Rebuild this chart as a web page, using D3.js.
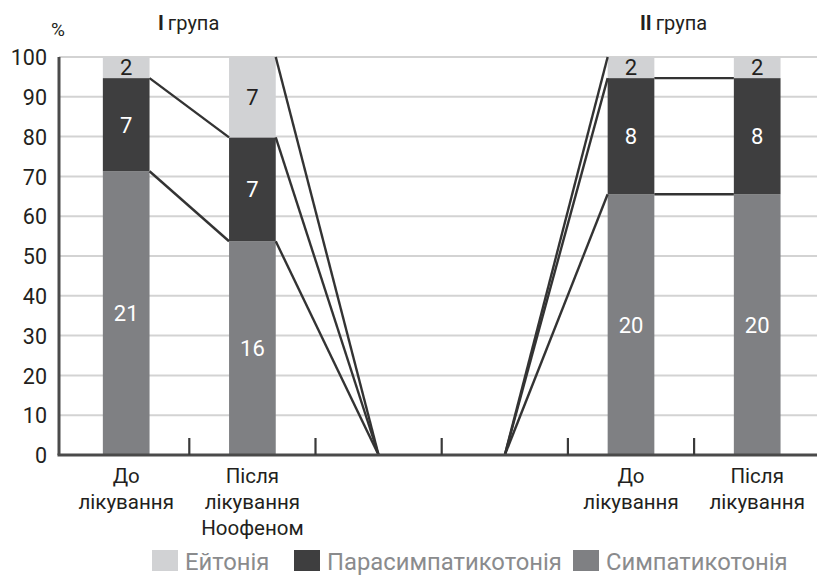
<!DOCTYPE html>
<html><head><meta charset="utf-8">
<script src="https://cdn.jsdelivr.net/npm/d3@7"></script>
<style>body{margin:0;background:#fff}svg{display:block}text{font-family:Roboto,"Noto Sans",sans-serif}</style>
</head><body><svg id="c" width="817" height="575"></svg>
<script>
// Data
const categories = [["До","лікування"],["Після","лікування","Ноофеном"],[],[],["До","лікування"],["Після","лікування"]];
const symp = [71.3, 53.7, 0, 0, 65.5, 65.5];     // % Симпатикотонія
const para = [23.4, 26.1, 0, 0, 29.2, 29.2];     // % Парасимпатикотонія
const eut  = [5.3, 20.2, 0, 0, 5.3, 5.3];        // % Ейтонія
const sympN = [21, 16, null, null, 20, 20];
const paraN = [7, 7, null, null, 8, 8];
const eutN  = [2, 7, null, null, 2, 2];
const yTicks = [0,10,20,30,40,50,60,70,80,90,100];
const groupNumerals = ["І","ІІ"];
const groupWord = "група";
const seriesNames = ["Ейтонія","Парасимпатикотонія","Симпатикотонія"];

const svg = d3.select("#c");
const x0 = 63.1, x1 = 820.3, yTop = 57, yBot = 455, axisX = 59;
const x = d3.scaleBand().domain(d3.range(categories.length)).range([x0, x1]).paddingInner(0.63).paddingOuter(0.315);
const y = d3.scaleLinear().domain([0,100]).range([yBot, yTop]);
const colors = {eut:"#d1d2d4", para:"#3e3e3f", symp:"#7f8083"};

// gridlines
svg.append("g").selectAll("line").data(yTicks.filter(d=>d>0)).join("line")
  .attr("x1", axisX).attr("x2", 817).attr("y1", d=>y(d)).attr("y2", d=>y(d))
  .attr("stroke", "#d3d3d3").attr("stroke-width", 2);

// y axis labels
const yAxis = d3.axisLeft(y).tickValues(yTicks).tickSize(0).tickPadding(0);
const ya = svg.append("g").attr("transform", `translate(47,0)`).call(yAxis);
ya.select(".domain").remove();
ya.selectAll("text").attr("font-size", 21.5).attr("fill", "#231f20").attr("font-family", "Roboto,sans-serif").attr("dy","0.36em").attr("x",0);

// stacked bars
const rows = categories.map((c,i)=>({i, symp:symp[i], para:para[i], eut:eut[i]}));
const stack = d3.stack().keys(["symp","para","eut"])(rows);
const bars = svg.append("g");
stack.forEach(s=>{
  bars.append("g").selectAll("rect").data(s.filter(d=>d[1]-d[0]>0)).join("rect")
    .attr("x", d=>x(d.data.i)).attr("width", x.bandwidth())
    .attr("y", d=>y(d[1])).attr("height", d=>y(d[0])-y(d[1]))
    .attr("fill", colors[s.key]);
});

// series lines
const lines = svg.append("g").attr("stroke", "#333").attr("stroke-width", 2.4).attr("fill","none");
stack.forEach(s=>{
  for (let i=0;i<rows.length-1;i++){
    const a = s[i], b = s[i+1];
    const ha = rows[i].symp+rows[i].para+rows[i].eut > 0;
    const hb = rows[i+1].symp+rows[i+1].para+rows[i+1].eut > 0;
    if (!ha && !hb) continue;
    if (s.key==="eut" && ha && hb) continue;
    const xa = ha ? x(i)+x.bandwidth() : x(i)+x.bandwidth()/2;
    const xb = hb ? x(i+1) : x(i+1)+x.bandwidth()/2;
    lines.append("line").attr("x1", xa).attr("y1", y(a[1])).attr("x2", xb).attr("y2", y(b[1]));
  }
});

// data labels
const labs = {symp:sympN, para:paraN, eut:eutN};
const labColor = {symp:"#fff", para:"#fff", eut:"#231f20"};
stack.forEach(s=>{
  svg.append("g").selectAll("text").data(s.filter(d=>labs[s.key][d.data.i]!=null)).join("text")
    .attr("x", d=>x(d.data.i)+x.bandwidth()/2).attr("y", d=>(y(d[0])+y(d[1]))/2)
    .attr("dy","0.36em").attr("text-anchor","middle").attr("font-size",22)
    .attr("fill", labColor[s.key]).text(d=>labs[s.key][d.data.i]);
});

// axes lines
svg.append("line").attr("x1", axisX).attr("x2", axisX).attr("y1", yTop).attr("y2", yBot).attr("stroke","#4a4a4a").attr("stroke-width",3);
svg.append("line").attr("x1", axisX-1.5).attr("x2", 817).attr("y1", yBot).attr("y2", yBot).attr("stroke","#4a4a4a").attr("stroke-width",3);
// category tick marks (between categories)
svg.append("g").selectAll("line").data(d3.range(1, categories.length)).join("line")
  .attr("x1", d=>x(d)-x.step()*x.paddingInner()/2).attr("x2", d=>x(d)-x.step()*x.paddingInner()/2)
  .attr("y1", yBot-17).attr("y2", yBot).attr("stroke","#3a3a3a").attr("stroke-width",2.2);

// category labels (one text per line)
const cl = svg.append("g");
categories.forEach((lns,i)=>{
  lns.forEach((l,k)=>cl.append("text").attr("x", x(i)+x.bandwidth()/2).attr("y", 483 + k*26)
    .attr("text-anchor","middle").attr("font-size",20.5).attr("fill","#231f20").text(l));
});

// titles
svg.append("text").attr("x", 51).attr("y", 36).attr("font-size", 19).attr("fill","#231f20").text("%");
[[158,0],[640,1]].forEach(([tx,g])=>{
  const t = svg.append("text").attr("x", tx).attr("y", 30).attr("font-size", 20).attr("fill","#231f20");
  t.append("tspan").attr("font-weight", 700).text(groupNumerals[g]);
  t.append("tspan").attr("dx", 4).text(groupWord);
});

// legend
const legX = [152, 294, 573];
const legCol = [colors.eut, colors.para, colors.symp];
seriesNames.forEach((n,i)=>{
  svg.append("rect").attr("x", legX[i]).attr("y", 550).attr("width",26).attr("height",21).attr("fill", legCol[i]);
  svg.append("text").attr("x", legX[i]+33).attr("y", 570).attr("font-size", 23.8).attr("fill","#8a8b8d").text(n);
});
</script></body></html>
